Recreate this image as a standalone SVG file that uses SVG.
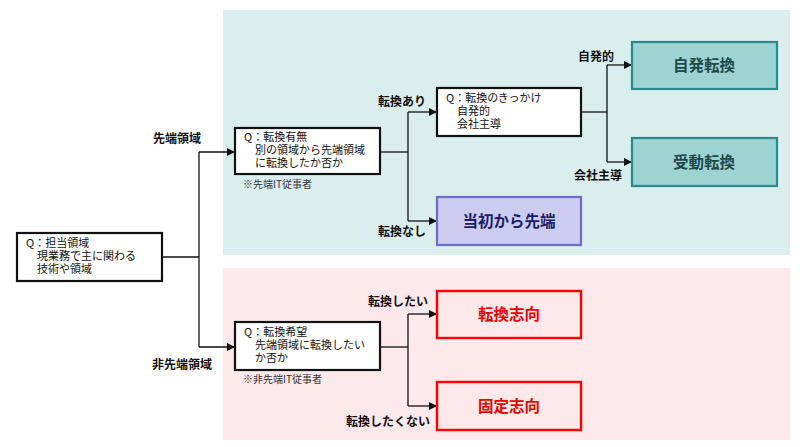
<svg xmlns="http://www.w3.org/2000/svg" width="800" height="447" viewBox="0 0 800 447">
<style>
text{font-family:"Noto Sans CJK JP","Noto Sans",sans-serif;fill:#111}
.q{fill:#fff;stroke:#111;stroke-width:2.2}
.t{font-size:11px}
.n{font-size:10px;fill:#333}
.lb{font-size:12px;font-weight:bold}
.big{font-size:15.5px;font-weight:bold;text-anchor:middle}
.c{fill:none;stroke:#111;stroke-width:1.3}
</style>
<defs>
<marker id="ah" viewBox="0 0 10 10" refX="10" refY="5" markerWidth="8" markerHeight="8" markerUnits="userSpaceOnUse" orient="auto"><path d="M0,0L10,5L0,10z" fill="#111"/></marker>
</defs>
<rect x="223" y="10" width="567" height="245" fill="#dbeeee"/>
<rect x="223" y="268" width="567" height="172" fill="#fde8ea"/>

<g id="connectors">
<path class="c" d="M162,257H199"/>
<path class="c" d="M199,152V347"/>
<path class="c" d="M199,152H235" marker-end="url(#ah)"/>
<path class="c" d="M199,347H235" marker-end="url(#ah)"/>
<path class="c" d="M380,152H408"/>
<path class="c" d="M408,112V221"/>
<path class="c" d="M408,112H437" marker-end="url(#ah)"/>
<path class="c" d="M408,221H437" marker-end="url(#ah)"/>
<path class="c" d="M581,112H607"/>
<path class="c" d="M607,65V162"/>
<path class="c" d="M607,65H632" marker-end="url(#ah)"/>
<path class="c" d="M607,162H632" marker-end="url(#ah)"/>
<path class="c" d="M380,347H408"/>
<path class="c" d="M408,314V406"/>
<path class="c" d="M408,314H437" marker-end="url(#ah)"/>
<path class="c" d="M408,406H437" marker-end="url(#ah)"/>
<text class="lb" x="153" y="143">先端領域</text>
<text class="lb" x="152" y="369">非先端領域</text>
<text class="lb" x="378" y="106">転換あり</text>
<text class="lb" x="378" y="236">転換なし</text>
<text class="lb" x="578" y="61">自発的</text>
<text class="lb" x="574" y="180">会社主導</text>
<text class="lb" x="368" y="306">転換したい</text>
<text class="lb" x="346" y="426">転換したくない</text>
</g>

<g id="root">
<rect class="q" x="17" y="233" width="145" height="48"/>
<text class="t" x="26" y="247">Q：担当領域</text>
<text class="t" x="37" y="260">現業務で主に関わる</text>
<text class="t" x="37" y="273">技術や領域</text>
</g>

<g id="q-switch">
<rect class="q" x="235" y="128" width="145" height="46"/>
<text class="t" x="244" y="141">Q：転換有無</text>
<text class="t" x="255" y="154">別の領域から先端領域</text>
<text class="t" x="255" y="167">に転換したか否か</text>
<text class="n" x="243" y="188">※先端IT従事者</text>
</g>

<g id="q-trigger">
<rect class="q" x="437" y="88" width="144" height="48"/>
<text class="t" x="446" y="102">Q：転換のきっかけ</text>
<text class="t" x="457" y="115">自発的</text>
<text class="t" x="457" y="128">会社主導</text>
</g>

<g id="from-start">
<rect x="437" y="197" width="144" height="48" fill="#ccccee" stroke="#6b6bcc" stroke-width="2.2"/>
<text class="big" x="509" y="227" style="fill:#1c1c6a">当初から先端</text>
</g>

<g id="voluntary">
<rect x="632" y="42" width="145" height="47" fill="#9dd3d3" stroke="#2a8a8a" stroke-width="2.2"/>
<text class="big" x="704" y="71" style="fill:#1e4a4a">自発転換</text>
</g>

<g id="passive">
<rect x="632" y="138" width="145" height="48" fill="#9dd3d3" stroke="#2a8a8a" stroke-width="2.2"/>
<text class="big" x="704" y="168" style="fill:#1e4a4a">受動転換</text>
</g>

<g id="q-wish">
<rect class="q" x="235" y="322" width="145" height="48"/>
<text class="t" x="244" y="336">Q：転換希望</text>
<text class="t" x="255" y="349">先端領域に転換したい</text>
<text class="t" x="255" y="362">か否か</text>
<text class="n" x="243" y="383">※非先端IT従事者</text>
</g>

<g id="switch-oriented">
<rect x="437" y="291" width="144" height="47" fill="#fde8ea" stroke="#ff0000" stroke-width="2.4"/>
<text class="big" x="509" y="320" style="fill:#ee0000">転換志向</text>
</g>

<g id="fixed-oriented">
<rect x="437" y="382" width="144" height="48" fill="#fde8ea" stroke="#ff0000" stroke-width="2.4"/>
<text class="big" x="509" y="412" style="fill:#ee0000">固定志向</text>
</g>
</svg>
